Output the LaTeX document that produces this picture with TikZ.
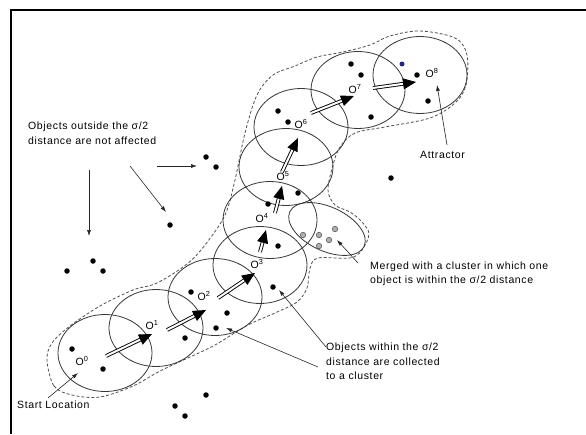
\documentclass[tikz,border=0pt]{standalone}
\usepackage{fontspec}
\setmainfont{Liberation Sans}
\newfontfamily\notefont[LetterSpace=6]{Liberation Sans}
\usetikzlibrary{shapes.geometric, arrows.meta, positioning}
\definecolor{RingColor}{RGB}{55,55,55}
\definecolor{HullColor}{RGB}{80,80,80}
\definecolor{MergedColor}{RGB}{175,175,175}
\definecolor{AttractColor}{RGB}{40,40,130}
\tikzstyle{ring} = [ellipse, draw=RingColor, line width=0.8pt, minimum width=94pt, minimum height=77pt, inner sep=0pt]
\tikzstyle{olabel} = [inner sep=0pt, font=\fontsize{10.5}{12}\selectfont]
\tikzstyle{note} = [inner sep=0pt, align=left, anchor=north west, font=\notefont\fontsize{10.5}{15}\selectfont]
\tikzstyle{move} = [double=white, double distance=2pt, line width=0.9pt, -{Triangle[length=13pt,width=11pt]}]
\tikzstyle{pointer} = [line width=0.6pt, black!85, -{Latex[length=6pt,width=4pt]}]
\tikzstyle{obj} = [circle, fill=black, inner sep=0pt, minimum size=5.5pt]
\tikzstyle{mobj} = [circle, fill=MergedColor, draw=black!70, line width=0.5pt, inner sep=0pt, minimum size=5.5pt]

\begin{document}
\begin{tikzpicture}[x=1pt, y=-1pt]
    \useasboundingbox (0,0) rectangle (586,434);
    % Frame
    \draw[line width=2pt] (11,434) -- (11,10) -- (586,10);

    % Dashed hull round the path
    \draw[HullColor, line width=0.8pt, dash pattern=on 3pt off 2pt]
        plot[smooth cycle, tension=0.55] coordinates {
        (47,360) (54,386) (72,395) (100,397) (133,386) (160,371) (190,357) (215,345)
        (248,325) (275,313) (297,302) (307,288) (310,268) (318,258) (350,258)
        (362,250) (369,234) (362,222) (350,212) (335,205) (328,190) (333,165)
        (340,147) (355,133) (385,127) (430,118) (455,103) (466,85) (467,55)
        (455,38) (420,31) (390,36) (370,45) (343,52) (317,57) (295,66) (273,75)
        (257,95) (245,133) (235,180) (225,215) (205,245) (187,264) (157,283)
        (133,290) (100,306) (70,326) (52,343)};

    % Search circles
    \node[ring] (c0) at (105,353) {};
    \node[ring] (c1) at (156,328) {};
    \node[ring] (c2) at (215,297) {};
    \node[ring] (c3) at (260,265) {};
    \node[ring] (c4) at (270,220) {};
    \node[ring] (c5) at (286,167) {};
    \node[ring] (c6) at (301,127) {};
    \node[ring] (c7) at (358,90) {};
    \node[ring] (c8) at (420,75) {};
    \node[ellipse, draw=RingColor, line width=0.8pt, minimum width=82pt, minimum height=44pt, rotate=-25] (merged) at (327,229) {};

    % Objects
    \foreach \p in {(206,157),(216,167),(170,225),(93,261),(67,271),(103,271),(391,178),
        (206,395),(175,406),(185,416),(72,349),(103,369),(185,338),(191,292),(227,313),
        (216,328),(273,287),(278,246),(268,204),(298,193),(278,111),(288,122),
        (351,64),(361,75),(371,117),(417,75),(428,101)}
        \node[obj] at \p {};
    \node[circle, fill=AttractColor, inner sep=0pt, minimum size=5pt] (blue) at (402,64) {};
    \foreach \p in {(303,235),(319,235),(319,246),(329,240),(335,229)}
        \node[mobj] at \p {};

    % Positions
    \node[olabel] (o0) at (82,361) {O\textsuperscript{0}};
    \node[olabel] (o1) at (152,325) {O\textsuperscript{1}};
    \node[olabel] (o2) at (204,296) {O\textsuperscript{2}};
    \node[olabel] (o3) at (257,264) {O\textsuperscript{3}};
    \node[olabel] (o4) at (262,218) {O\textsuperscript{4}};
    \node[olabel] (o5) at (283,176) {O\textsuperscript{5}};
    \node[olabel] (o6) at (301,124) {O\textsuperscript{6}};
    \node[olabel] (o7) at (355,89) {O\textsuperscript{7}};
    \node[olabel] (o8) at (432,73) {O\textsuperscript{8}};

    % Moves
    \coordinate (s1) at (106,356); \coordinate (e1) at (152,334);
    \coordinate (s2) at (167,330); \coordinate (e2) at (206,310);
    \coordinate (s3) at (218,298); \coordinate (e3) at (255,273);
    \coordinate (s4) at (260,252); \coordinate (e4) at (266,230);
    \coordinate (s5) at (275,213); \coordinate (e5) at (282,186);
    \coordinate (s6) at (282,172); \coordinate (e6) at (298,138);
    \coordinate (s7) at (311,113); \coordinate (e7) at (354,96);
    \coordinate (s8) at (373,88);  \coordinate (e8) at (416,82);
    \draw[move] (s1) -- (e1);
    \draw[move] (s2) -- (e2);
    \draw[move] (s3) -- (e3);
    \draw[move] (s4) -- (e4);
    \draw[move] (s5) -- (e5);
    \draw[move] (s6) -- (e6);
    \draw[move] (s7) -- (e7);
    \draw[move] (s8) -- (e8);

    % Notes
    \node[note] (outside) at (28,122) {Objects outside the σ/2\\distance are not affected};
    \node[note] (attractor) at (420,151) {Attractor};
    \node[note, font=\notefont\fontsize{10.5}{14}\selectfont] (mergednote) at (370,262) {Merged with a cluster in which one\\object is within the σ/2 distance};
    \node[note, font=\notefont\fontsize{10.5}{14.5}\selectfont] (within) at (326,343) {Objects within the σ/2\\distance are collected\\to a cluster};
    \node[note] (start) at (17,401) {Start Location};

    % Pointers
    \coordinate (a1) at (89,170);  \coordinate (b1) at (89,236);
    \coordinate (a2) at (130,166); \coordinate (b2) at (166,212);
    \coordinate (a3) at (157,166); \coordinate (b3) at (197,166);
    \coordinate (a4) at (447,145); \coordinate (b4) at (437,85);
    \coordinate (a5) at (358,263); \coordinate (b5) at (337,240);
    \coordinate (a6) at (326,347); \coordinate (b6) at (279,290);
    \coordinate (a7) at (318,367); \coordinate (b7) at (226,328);
    \coordinate (a8) at (48,398);  \coordinate (b8) at (78,373);
    \draw[pointer] (a1) -- (b1);
    \draw[pointer] (a2) -- (b2);
    \draw[pointer] (a3) -- (b3);
    \draw[pointer] (a4) -- (b4);
    \draw[pointer] (a5) -- (b5);
    \draw[pointer] (a6) -- (b6);
    \draw[pointer] (a7) -- (b7);
    \draw[pointer] (a8) -- (b8);
\end{tikzpicture}
\end{document}
